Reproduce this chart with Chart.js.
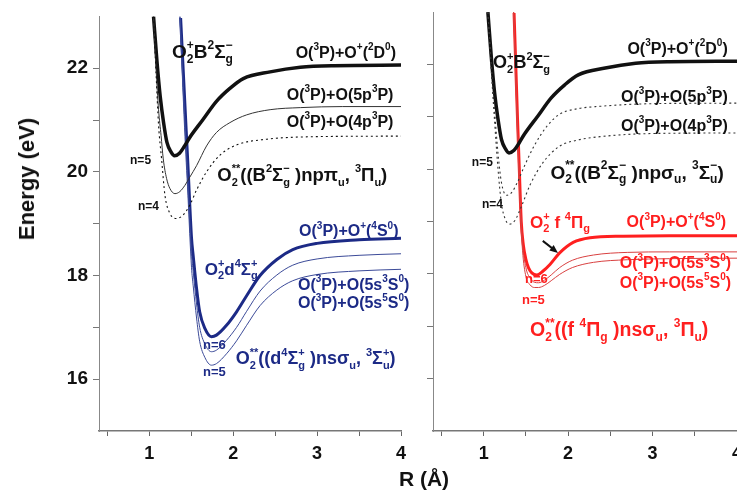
<!DOCTYPE html>
<html>
<head>
<meta charset="utf-8">
<script src="https://cdn.jsdelivr.net/npm/chart.js@4"></script>
<style>
body { margin: 0; width: 737px; height: 497px; overflow: hidden; background: #fff; position: relative; font-family: "Liberation Sans", Arial, sans-serif; }
#left { position: absolute; left: 0; top: 0; }
#right { position: absolute; left: 410px; top: 0; }
.ylab { position: absolute; left: 27px; top: 179px; transform: translate(-50%, -50%) rotate(-90deg); font-weight: bold; font-size: 22px; white-space: nowrap; color: #111; }
.xlab { position: absolute; left: 424px; top: 479px; transform: translate(-50%, -50%); font-weight: bold; font-size: 21px; white-space: nowrap; color: #111; }
</style>
</head>
<body>
<canvas id="left" width="420" height="497"></canvas>
<canvas id="right" width="340" height="497"></canvas>
<div class="ylab">Energy (eV)</div>
<div class="xlab">R (Å)</div>
<script>
// ---- data (R in Å, energy in eV) ----
let xTicks = [0.5, 1, 1.5, 2, 2.5, 3, 3.5, 4];
let yTicks = [16, 17, 18, 19, 20, 21, 22];

// O2+ B2Σg- (both panels)
let rB = [1.05, 1.09, 1.13, 1.17, 1.21, 1.26, 1.30, 1.36, 1.42, 1.48, 1.64, 1.80, 1.96, 2.12, 2.44, 2.8, 3.2, 4.0];
let eB = [23.0, 22.15, 21.45, 20.95, 20.57, 20.38, 20.31, 20.36, 20.50, 20.66, 21.01, 21.36, 21.61, 21.80, 21.93, 22.02, 22.05, 22.06];

// left: (B)np pi_u, n=5 and n=4
let rBn5 = [1.05, 1.08, 1.11, 1.14, 1.166, 1.206, 1.245, 1.305, 1.364, 1.424, 1.483, 1.563, 1.682, 1.80, 1.96, 2.16, 2.44, 2.8, 3.3, 4.0];
let eBn5 = [23.0, 22.0, 21.2, 20.7, 20.25, 19.87, 19.68, 19.58, 19.62, 19.74, 19.90, 20.12, 20.50, 20.76, 20.95, 21.10, 21.20, 21.24, 21.26, 21.26];
let rBn4 = [1.05, 1.08, 1.11, 1.146, 1.186, 1.245, 1.325, 1.404, 1.483, 1.563, 1.682, 1.84, 2.04, 2.4, 3.0, 4.0];
let eBn4 = [23.0, 21.9, 20.9, 20.25, 19.55, 19.20, 19.10, 19.17, 19.36, 19.65, 20.0, 20.32, 20.52, 20.63, 20.68, 20.69];

// left: O2+ d4Σg+ and (d)ns sigma_u, n=6 and n=5
let rD = [1.373, 1.42, 1.46, 1.503, 1.523, 1.563, 1.60, 1.662, 1.74, 1.80, 1.92, 2.04, 2.16, 2.32, 2.52, 2.71, 3.0, 3.5, 4.0];
let eD = [22.97, 21.43, 20.13, 18.72, 18.38, 17.75, 17.30, 16.98, 16.82, 16.85, 17.04, 17.30, 17.61, 18.0, 18.31, 18.50, 18.62, 18.69, 18.72];
let rDn = [1.365, 1.42, 1.46, 1.503, 1.523, 1.563, 1.60, 1.662, 1.74, 1.80, 1.92, 2.04, 2.16, 2.32, 2.52, 2.71, 3.0, 3.5, 4.0];
let eDn6 = [23.0, 21.13, 19.83, 18.42, 18.08, 17.45, 17.0, 16.68, 16.53, 16.56, 16.75, 17.0, 17.31, 17.70, 18.01, 18.20, 18.32, 18.39, 18.42];
let eDn5 = [23.0, 20.85, 19.55, 18.15, 17.8, 17.18, 16.73, 16.42, 16.27, 16.30, 16.49, 16.74, 17.04, 17.42, 17.72, 17.90, 18.02, 18.09, 18.12];

// right: (B)np sigma_u, n=5 and n=4
let rSn5 = [1.05, 1.09, 1.13, 1.17, 1.21, 1.27, 1.33, 1.40, 1.48, 1.60, 1.75, 1.90, 2.1, 2.38, 3.0, 4.0];
let eSn5 = [23.0, 22.0, 21.1, 20.3, 19.75, 19.5, 19.55, 19.75, 20.05, 20.45, 20.82, 21.05, 21.15, 21.2, 21.25, 21.26];
let rSn4 = [1.05, 1.09, 1.13, 1.17, 1.21, 1.26, 1.31, 1.37, 1.45, 1.55, 1.7, 1.90, 2.1, 2.38, 3.0, 4.0];
let eSn4 = [23.0, 21.9, 20.9, 20.0, 19.35, 19.03, 18.95, 19.02, 19.3, 19.7, 20.12, 20.44, 20.55, 20.62, 20.68, 20.69];

// right: O2+ f4Πg and (f)ns sigma_u, n=6 and n=5
let rF = [1.36, 1.40, 1.42, 1.445, 1.47, 1.50, 1.53, 1.57, 1.63, 1.70, 1.785, 1.90, 2.06, 2.26, 2.65, 3.2, 4.0];
let eF = [22.98, 21.0, 20.1, 19.0, 18.55, 18.28, 18.12, 18.02, 17.98, 18.05, 18.18, 18.40, 18.60, 18.69, 18.72, 18.73, 18.73];
let rFn = [1.355, 1.40, 1.43, 1.46, 1.50, 1.55, 1.60, 1.65, 1.72, 1.80, 1.90, 2.05, 2.3, 2.7, 3.2, 4.0];
let eFn6 = [23.0, 20.8, 19.5, 18.6, 18.12, 17.92, 17.84, 17.83, 17.88, 17.98, 18.12, 18.26, 18.36, 18.41, 18.42, 18.42];
let eFn5 = [23.0, 20.7, 19.35, 18.45, 17.95, 17.79, 17.74, 17.74, 17.78, 17.87, 17.99, 18.12, 18.22, 18.27, 18.29, 18.30];

const BLACK = "#111111";
const BLUE = "#1c2a86";
const BLUE_T = "#3b4a98";
const RED = "#ff1f1f";
const FONT = "Liberation Sans";

// labels: t uses ^{..} for superscript, _{..} for subscript
let leftLabels = [
    { t: "O_{2}^{+}B^{2}Σ_{g}^{−}", r: 1.27, e: 22.30, s: 19, c: BLACK, a: "left" },
    { t: "O(^{3}P)+O^{+}(^{2}D^{0})", r: 3.94, e: 22.29, s: 16, c: BLACK, a: "right" },
    { t: "O(^{3}P)+O(5p^{3}P)", r: 3.91, e: 21.47, s: 16, c: BLACK, a: "right" },
    { t: "O(^{3}P)+O(4p^{3}P)", r: 3.91, e: 20.95, s: 16, c: BLACK, a: "right" },
    { t: "O_{2}^{**}((B^{2}Σ_{g}^{−} )npπ_{u}, ^{3}Π_{u})", r: 1.81, e: 19.92, s: 18.5, c: BLACK, a: "left" },
    { t: "n=5", r: 0.77, e: 20.21, s: 12, c: BLACK, a: "left" },
    { t: "n=4", r: 0.865, e: 19.33, s: 12, c: BLACK, a: "left" },
    { t: "O(^{3}P)+O^{+}(^{4}S^{0})", r: 3.97, e: 18.84, s: 16, c: BLUE, a: "right" },
    { t: "O_{2}^{+}d^{4}Σ_{g}^{+}", r: 1.66, e: 18.10, s: 17, c: BLUE, a: "left" },
    { t: "O(^{3}P)+O(5s^{3}S^{0})", r: 4.1, e: 17.81, s: 16, c: BLUE, a: "right" },
    { t: "O(^{3}P)+O(5s^{5}S^{0})", r: 4.1, e: 17.45, s: 16, c: BLUE, a: "right" },
    { t: "n=6", r: 1.64, e: 16.65, s: 13, c: BLUE, a: "left" },
    { t: "n=5", r: 1.64, e: 16.13, s: 13, c: BLUE, a: "left" },
    { t: "O_{2}^{**}((d^{4}Σ_{g}^{+} )nsσ_{u}, ^{3}Σ_{u}^{+})", r: 2.03, e: 16.38, s: 18, c: BLUE, a: "left" }
];
let rightLabels = [
    { t: "O_{2}^{+}B^{2}Σ_{g}^{−}", r: 1.11, e: 22.02, s: 18, c: BLACK, a: "left" },
    { t: "O(^{3}P)+O^{+}(^{2}D^{0})", r: 3.89, e: 22.29, s: 16, c: BLACK, a: "right" },
    { t: "O(^{3}P)+O(5p^{3}P)", r: 3.89, e: 21.37, s: 16, c: BLACK, a: "right" },
    { t: "O(^{3}P)+O(4p^{3}P)", r: 3.89, e: 20.82, s: 16, c: BLACK, a: "right" },
    { t: "O_{2}^{**}((B^{2}Σ_{g}^{−} )npσ_{u}, ^{3}Σ_{u}^{−})", r: 1.79, e: 19.92, s: 19, c: BLACK, a: "left" },
    { t: "n=5", r: 0.86, e: 20.13, s: 12, c: BLACK, a: "left" },
    { t: "n=4", r: 0.98, e: 19.33, s: 12, c: BLACK, a: "left" },
    { t: "O_{2}^{+} f ^{4}Π_{g}", r: 1.55, e: 18.97, s: 17, c: RED, a: "left" },
    { t: "O(^{3}P)+O^{+}(^{4}S^{0})", r: 3.87, e: 18.97, s: 16, c: RED, a: "right" },
    { t: "O(^{3}P)+O(5s^{3}S^{0})", r: 3.93, e: 18.19, s: 16, c: RED, a: "right" },
    { t: "O(^{3}P)+O(5s^{5}S^{0})", r: 3.93, e: 17.81, s: 16, c: RED, a: "right" },
    { t: "n=6", r: 1.49, e: 17.89, s: 13, c: RED, a: "left" },
    { t: "n=5", r: 1.455, e: 17.49, s: 13, c: RED, a: "left" },
    { t: "O_{2}^{**}((f ^{4}Π_{g} )nsσ_{u}, ^{3}Π_{u})", r: 1.55, e: 16.91, s: 19.5, c: RED, a: "left" }
];

function pts(rs, es) {
    return rs.map((r, i) => ({ x: r, y: es[i] }));
}

function line(rs, es, color, width, dash) {
    return {
        data: pts(rs, es),
        borderColor: color,
        borderWidth: width,
        borderDash: dash || [],
        pointRadius: 0,
        cubicInterpolationMode: "monotone",
        fill: false
    };
}

// split "O_{2}^{+}B" into units {base, sup, sub}
function parseRich(s) {
    let units = [];
    let i = 0;
    while (i < s.length) {
        let ch = s[i];
        if ((ch === "^" || ch === "_") && s[i + 1] === "{") {
            let end = s.indexOf("}", i);
            let txt = s.slice(i + 2, end);
            let key = ch === "^" ? "sup" : "sub";
            let last = units[units.length - 1];
            if (!last || last[key]) {
                last = { base: "", sup: "", sub: "" };
                units.push(last);
            }
            last[key] = txt;
            i = end + 1;
        } else {
            let last = units[units.length - 1];
            if (!last || last.sup || last.sub) {
                last = { base: "", sup: "", sub: "" };
                units.push(last);
            }
            last.base += ch;
            i++;
        }
    }
    return units;
}

function drawRich(ctx, s, x, y, size, color, align) {
    let units = parseRich(s);
    let big = "bold " + size + "px '" + FONT + "'";
    let small = "bold " + Math.round(size * 0.62) + "px '" + FONT + "'";
    let w = 0;
    units.forEach(u => {
        ctx.font = big;
        w += ctx.measureText(u.base).width;
        ctx.font = small;
        w += Math.max(ctx.measureText(u.sup).width, ctx.measureText(u.sub).width);
    });
    let px = align === "right" ? x - w : x;
    ctx.save();
    ctx.fillStyle = color;
    ctx.textBaseline = "middle";
    ctx.textAlign = "left";
    units.forEach(u => {
        ctx.font = big;
        ctx.fillText(u.base, px, y);
        px += ctx.measureText(u.base).width;
        ctx.font = small;
        if (u.sup) ctx.fillText(u.sup, px, y - size * 0.38);
        if (u.sub) ctx.fillText(u.sub, px, y + size * 0.36);
        px += Math.max(ctx.measureText(u.sup).width, ctx.measureText(u.sub).width);
    });
    ctx.restore();
}

const labelPlugin = {
    id: "labels",
    afterDatasetsDraw(chart, args, opts) {
        let ctx = chart.ctx;
        let xs = chart.scales.x;
        let ys = chart.scales.y;
        opts.items.forEach(l => {
            drawRich(ctx, l.t, xs.getPixelForValue(l.r), ys.getPixelForValue(l.e), l.s, l.c, l.a);
        });
        if (opts.arrow) {
            let a = opts.arrow;
            let x1 = xs.getPixelForValue(a[0]), y1 = ys.getPixelForValue(a[1]);
            let x2 = xs.getPixelForValue(a[2]), y2 = ys.getPixelForValue(a[3]);
            let ang = Math.atan2(y2 - y1, x2 - x1);
            ctx.save();
            ctx.strokeStyle = BLACK;
            ctx.fillStyle = BLACK;
            ctx.lineWidth = 2;
            ctx.beginPath();
            ctx.moveTo(x1, y1);
            ctx.lineTo(x2 - 5 * Math.cos(ang), y2 - 5 * Math.sin(ang));
            ctx.stroke();
            ctx.beginPath();
            ctx.moveTo(x2, y2);
            ctx.lineTo(x2 - 9 * Math.cos(ang - 0.4), y2 - 9 * Math.sin(ang - 0.4));
            ctx.lineTo(x2 - 9 * Math.cos(ang + 0.4), y2 - 9 * Math.sin(ang + 0.4));
            ctx.closePath();
            ctx.fill();
            ctx.restore();
        }
    }
};

function makeChart(id, datasets, labels, yWidth, showY, padRight, arrow) {
    return new Chart(document.getElementById(id), {
        type: "line",
        data: { datasets: datasets },
        options: {
            responsive: false,
            animation: false,
            layout: { padding: { top: 12, right: padRight, left: 0, bottom: 0 } },
            plugins: {
                legend: { display: false },
                tooltip: { enabled: false },
                labels: { items: labels, arrow: arrow }
            },
            scales: {
                x: {
                    type: "linear",
                    min: 0.4,
                    max: 4,
                    afterBuildTicks: s => { s.ticks = xTicks.map(v => ({ value: v })); },
                    afterFit: s => { s.height = 66; },
                    ticks: {
                        autoSkip: false,
                        maxRotation: 0,
                        padding: 7,
                        color: BLACK,
                        font: { family: FONT, size: 18, weight: "bold" },
                        callback: v => Number.isInteger(v) ? String(v) : ""
                    },
                    grid: { drawOnChartArea: false, tickLength: 5, color: "#666" },
                    border: { color: "#777", width: 1.5 }
                },
                y: {
                    min: 15,
                    max: 23,
                    afterBuildTicks: s => { s.ticks = yTicks.map(v => ({ value: v })); },
                    afterFit: s => { s.width = yWidth; },
                    ticks: {
                        display: showY,
                        autoSkip: false,
                        padding: 5,
                        color: BLACK,
                        font: { family: FONT, size: 19, weight: "bold" },
                        callback: v => v % 2 === 0 ? String(v) : ""
                    },
                    grid: { drawOnChartArea: false, tickLength: 6, color: "#777" },
                    border: { color: "#888", width: 1 }
                }
            }
        },
        plugins: [labelPlugin]
    });
}

makeChart("left", [
    line(rBn4, eBn4, BLACK, 1.1, [2, 3]),
    line(rBn5, eBn5, "#333", 1),
    line(rB, eB, BLACK, 3.5),
    line(rDn, eDn5, BLUE_T, 1),
    line(rDn, eDn6, BLUE_T, 1),
    line(rD, eD, BLUE, 3)
], leftLabels, 99, true, 19, null);

makeChart("right", [
    line(rSn4, eSn4, "#333", 1.1, [2, 3]),
    line(rSn5, eSn5, "#333", 1.1, [2, 3]),
    line(rB, eB, BLACK, 3.5),
    line(rFn, eFn5, "#d84040", 1),
    line(rFn, eFn6, "#d84040", 1),
    line(rF, eF, RED, 3)
], rightLabels, 23, false, 13, [1.70, 18.63, 1.88, 18.40]);
</script>
</body>
</html>
